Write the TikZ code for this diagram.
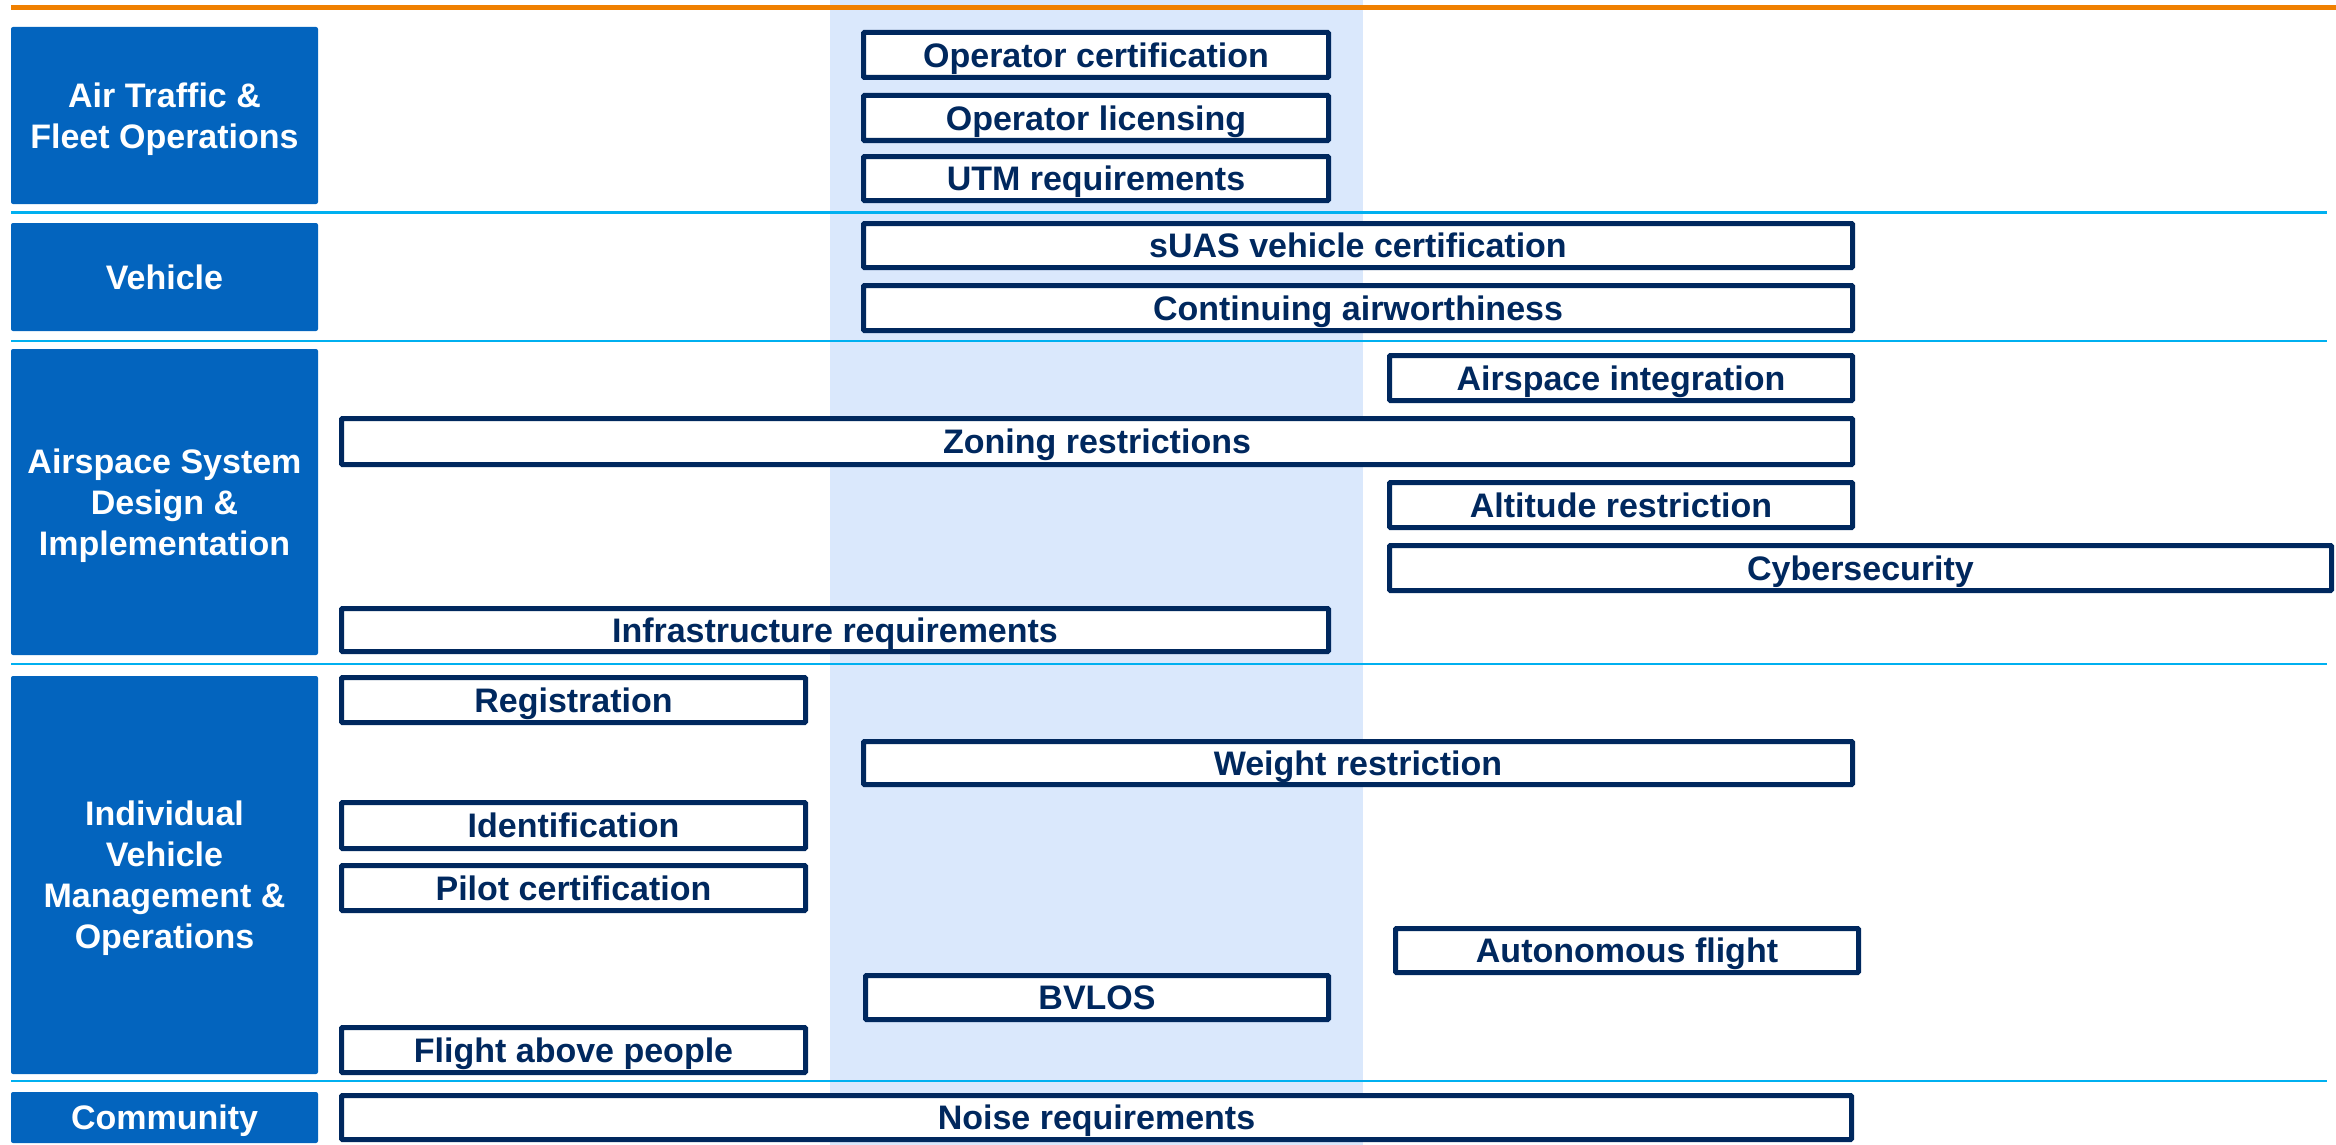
\documentclass[tikz,border=0pt]{standalone}
\usepackage{fontspec}
\setmainfont{Liberation Sans}
\definecolor{catblue}{RGB}{3,100,190}
\definecolor{navy}{RGB}{0,40,94}
\definecolor{bandblue}{RGB}{218,232,252}
\definecolor{sepcyan}{RGB}{0,176,240}
\definecolor{topor}{RGB}{240,128,0}
\tikzset{
  itembox/.style={draw=navy, line width=5pt, fill=white, rounded corners=1pt,
    text=navy, font=\bfseries\fontsize{34}{41}\selectfont, inner sep=0pt,
    text height=24.5pt, text depth=0pt},
  catbox/.style={fill=catblue, rounded corners=2pt, text=white, align=center,
    font=\bfseries\fontsize{34}{41}\selectfont, inner sep=0pt, text depth=0pt},
  seprule/.style={draw=sepcyan, line width=2.7pt},
}
\newcommand\mkitem[6]{%
  \node[itembox, minimum width={(#4-#2-5)*1pt}, minimum height={(#5-#3-5)*1pt}]
    (#1) at ({(#2+#4)/2},{(#3+#5)/2}) {#6};}
\newcommand\mkcat[6]{%
  \node[catbox, minimum width={(#4-#2)*1pt}, minimum height={(#5-#3)*1pt}]
    (#1) at ({(#2+#4)/2},{(#3+#5)/2}) {#6};}
\begin{document}
\begin{tikzpicture}[x=1pt,y=-1pt]
\useasboundingbox (0,0) rectangle (2336,1145);
% highlighted band
\fill[bandblue] (830,0) rectangle (1363,1145);
% top orange rule
\draw[topor, line width=5pt] (11,7.5) -- (2336,7.5);
% separators
\foreach \yy in {212.7,341,664,1081} \draw[seprule] (11,\yy) -- (2327,\yy);
% categories
\mkcat{cA}{11}{27}{318}{204}{Air Traffic \&\\Fleet Operations}
\mkcat{cB}{11}{223}{318}{331}{Vehicle}
\mkcat{cC}{11}{349}{318}{655}{Airspace System\\Design \&\\Implementation}
\mkcat{cD}{11}{676}{318}{1074}{Individual\\Vehicle\\Management \&\\Operations}
\mkcat{cE}{11}{1092}{318}{1143}{Community}
% items
\mkitem{i1}{861}{30}{1331}{80}{Operator certification}
\mkitem{i2}{861}{93}{1331}{143}{Operator licensing}
\mkitem{i3}{861}{154}{1331}{203}{UTM requirements}
\mkitem{i4}{861}{221}{1855}{270}{sUAS vehicle certification}
\mkitem{i5}{861}{283}{1855}{333}{Continuing airworthiness}
\mkitem{i6}{1387}{353}{1855}{403}{Airspace integration}
\mkitem{i7}{339}{416}{1855}{467}{Zoning restrictions}
\mkitem{i8}{1387}{480}{1855}{530}{Altitude restriction}
\mkitem{i9}{1387}{543}{2334}{593}{Cybersecurity}
\mkitem{i10}{339}{606}{1331}{654}{Infrastructure requirements}
\mkitem{i11}{339}{675}{808}{725}{Registration}
\mkitem{i12}{861}{739}{1855}{787}{Weight restriction}
\mkitem{i13}{339}{800}{808}{851}{Identification}
\mkitem{i14}{339}{863}{808}{913}{Pilot certification}
\mkitem{i15}{1393}{926}{1861}{975}{Autonomous flight}
\mkitem{i16}{863}{973}{1331}{1022}{BVLOS}
\mkitem{i17}{339}{1025}{808}{1075}{Flight above people}
\mkitem{i18}{339}{1093}{1854}{1142}{Noise requirements}
\end{tikzpicture}
\end{document}
